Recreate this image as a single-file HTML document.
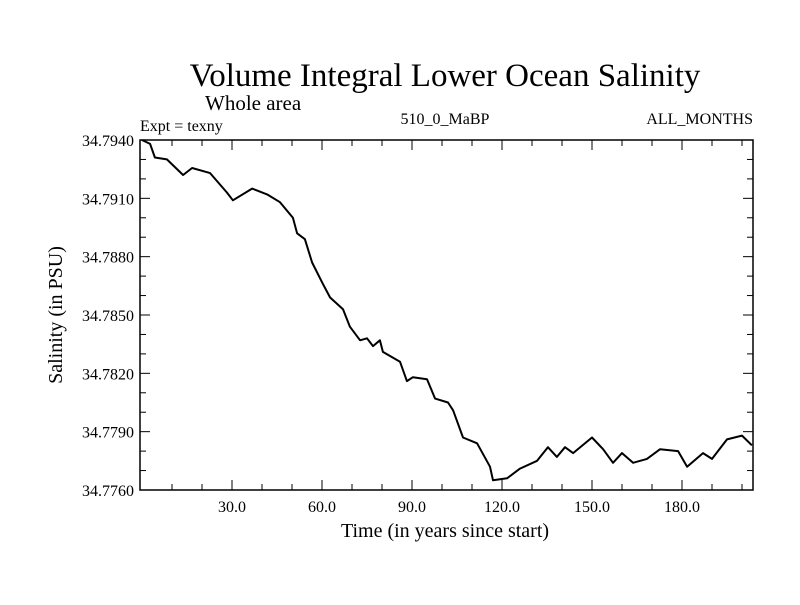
<!DOCTYPE html>
<html><head><meta charset="utf-8"><style>
body{margin:0;background:#fff}
svg text{font-family:"Liberation Serif",serif;fill:#000}
</style></head><body>
<svg id="chart" width="800" height="600">
<text x="445" y="86" font-size="33" text-anchor="middle">Volume Integral Lower Ocean Salinity</text>
<text x="205" y="110" font-size="21">Whole area</text>
<text x="140" y="131" font-size="16">Expt = texny</text>
<text x="445" y="124" font-size="16" text-anchor="middle">510_0_MaBP</text>
<text x="753" y="124" font-size="16" text-anchor="end">ALL_MONTHS</text>
<text x="445" y="537" font-size="20" text-anchor="middle">Time (in years since start)</text>
<text transform="translate(62,315) rotate(-90)" font-size="20" text-anchor="middle">Salinity (in PSU)</text>
<g id="axes"></g>
<g id="series"></g>
<rect x="140" y="140" width="613" height="350" fill="none" stroke="#000" stroke-width="1.5"/>
</svg>
<script>
const years=[0,2.7,4.3,8.3,13.7,16.7,22.7,28.3,30.3,36.7,41.7,46,50.3,51.7,54.3,56.7,60.3,62.7,67,69.3,72.7,75,77,79.3,80.3,86,88.3,90.3,95,97.7,102,103.7,107,111.7,116,117,121.7,126,131.7,135.3,138.3,141,143.7,150,153.7,157,160,163.7,168.3,172.7,178.7,181.7,187,190,195,200,203.3];
const salinity=[34.7940,34.7938,34.7931,34.7930,34.7922,34.79256,34.7923,34.7913,34.7909,34.7915,34.7912,34.7908,34.7900,34.7892,34.7889,34.7877,34.7866,34.7859,34.7853,34.7844,34.7837,34.7838,34.7834,34.7837,34.7831,34.7826,34.7816,34.7818,34.7817,34.7807,34.7805,34.7801,34.7787,34.7784,34.7772,34.7765,34.7766,34.7771,34.7775,34.7782,34.7777,34.7782,34.7779,34.7787,34.7781,34.7774,34.7779,34.7774,34.7776,34.7781,34.7780,34.7772,34.7779,34.7776,34.7786,34.7788,34.7783];
const xTicks=[30,60,90,120,150,180];
const xTickLabels=["30.0","60.0","90.0","120.0","150.0","180.0"];
const yTicks=[34.7940,34.7910,34.7880,34.7850,34.7820,34.7790,34.7760];
const yTickLabels=["34.7940","34.7910","34.7880","34.7850","34.7820","34.7790","34.7760"];
const X0=140,X1=753,Y0=140,Y1=490,XMIN=-0.67,XMAX=203.67,YMIN=34.7760,YMAX=34.7940;
function sx(v){return X0+(v-XMIN)/(XMAX-XMIN)*(X1-X0);}
function sy(v){return Y1-(v-YMIN)/(YMAX-YMIN)*(Y1-Y0);}
const NS="http://www.w3.org/2000/svg";
const axes=document.getElementById('axes');
function line(x1,y1,x2,y2,name){const l=document.createElementNS(NS,'line');l.setAttribute('x1',x1);l.setAttribute('y1',y1);l.setAttribute('x2',x2);l.setAttribute('y2',y2);l.setAttribute('stroke','#000');l.setAttribute('stroke-width','1');


axes.appendChild(l);}
for(let t=10;t<XMAX;t+=10){const x=sx(t);const len=(t%30===0)?10:6;line(x,Y1,x,Y1-len,'x-tick');line(x,Y0,x,Y0+len,'x-tick-top');}
for(let k=0;k<=18;k++){const v=YMIN+k*0.001;const y=sy(v);const len=(k%3===0)?10:6;line(X0,y,X0+len,y,'y-tick');line(X1,y,X1-len,y,'y-tick-right');}
xTicks.forEach((t,i)=>{const tx=document.createElementNS(NS,'text');tx.setAttribute('x',sx(t));tx.setAttribute('y',Y1+22);tx.setAttribute('text-anchor','middle');tx.setAttribute('font-size','16');tx.textContent=xTickLabels[i];


axes.appendChild(tx);});
yTicks.forEach((v,i)=>{const tx=document.createElementNS(NS,'text');tx.setAttribute('x',X0-6);tx.setAttribute('y',sy(v)+6);tx.setAttribute('text-anchor','end');tx.setAttribute('font-size','16');tx.textContent=yTickLabels[i];


axes.appendChild(tx);});
const p=document.createElementNS(NS,'polyline');
p.setAttribute('points',years.map((y,i)=>sx(y).toFixed(1)+','+sy(salinity[i]).toFixed(1)).join(' '));
p.setAttribute('fill','none');p.setAttribute('stroke','#000');p.setAttribute('stroke-width','2');p.setAttribute('stroke-linejoin','round');


document.getElementById('series').appendChild(p);
</script>
</body></html>
